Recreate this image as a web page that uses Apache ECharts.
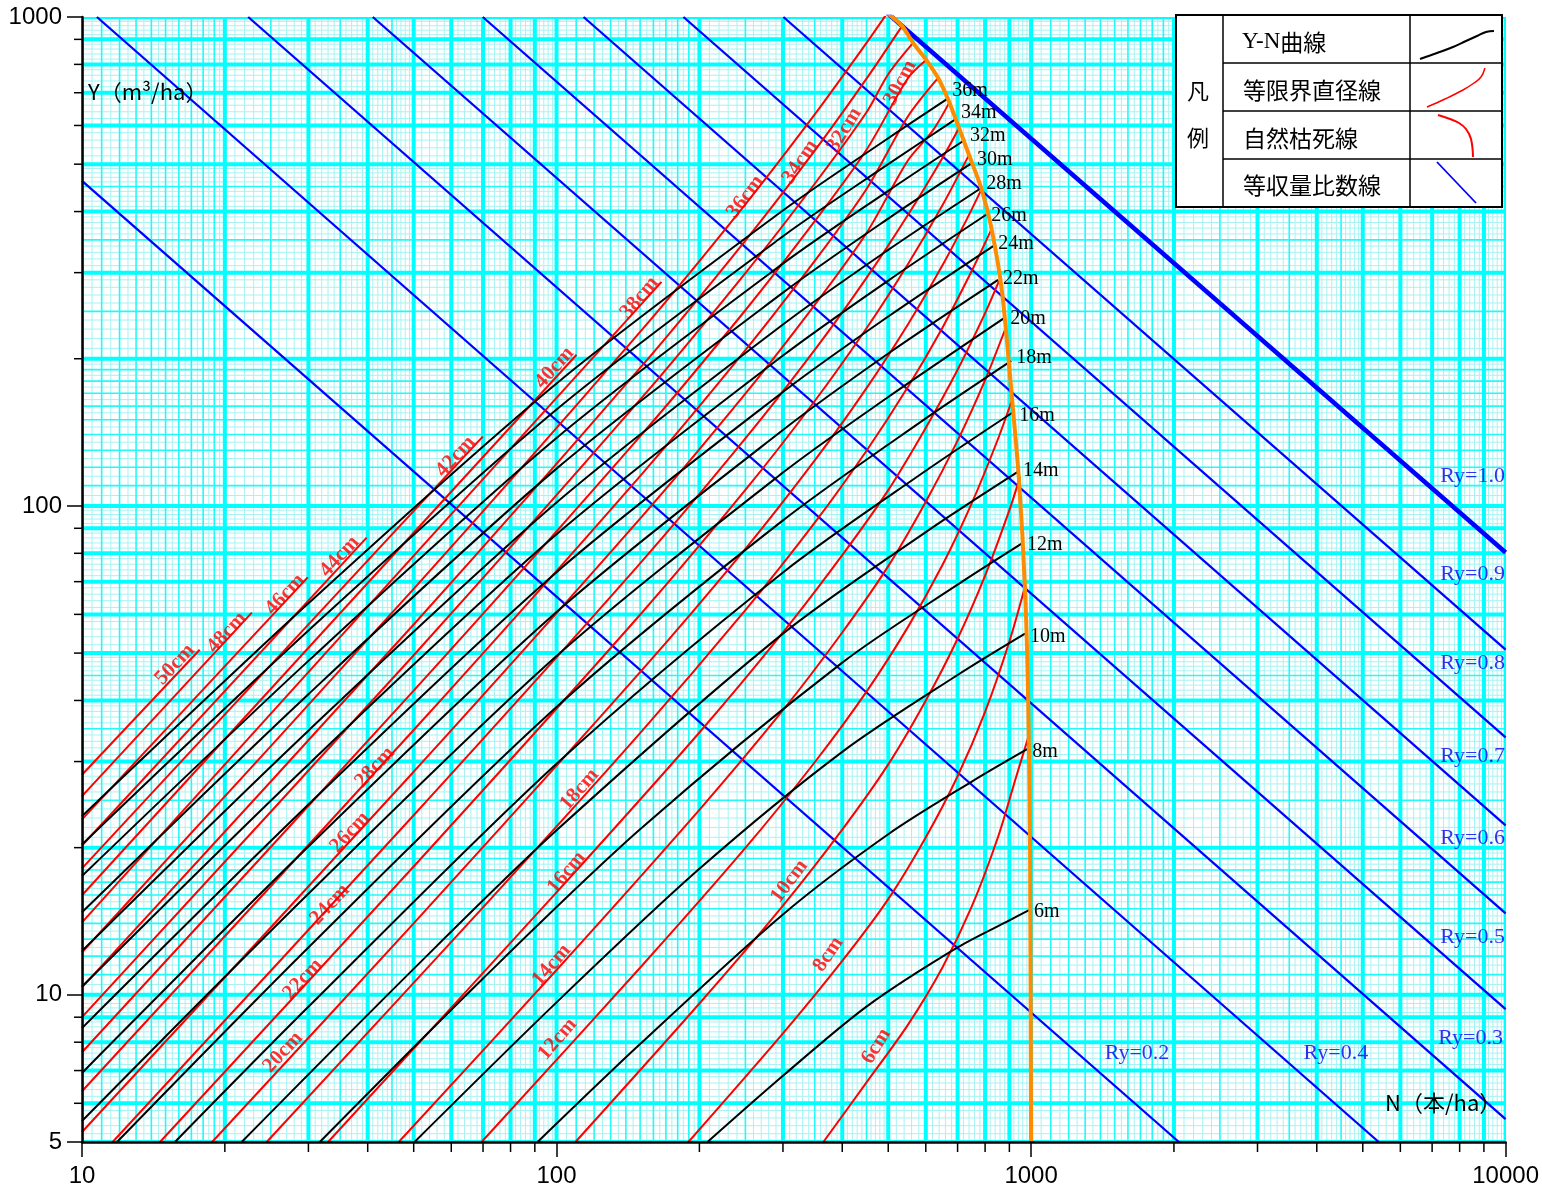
<!DOCTYPE html>
<html><head><meta charset="utf-8">
<script src="https://cdn.jsdelivr.net/npm/echarts@6/dist/echarts.min.js"></script>
<style>html,body{margin:0;padding:0;background:#fff}#c{width:1542px;height:1188px}</style>
</head><body><div id="c"></div>
<script>
// ---- axes ----
const X_MIN = 10, X_MAX = 10000, Y_MIN = 5, Y_MAX = 1000;
const xMinorTicks = [20,30,40,50,60,70,80,90,200,300,400,500,600,700,800,900,2000,3000,4000,5000,6000,7000,8000,9000];
const yMinorTicks = [6,7,8,9,20,30,40,50,60,70,80,90,200,300,400,500,600,700,800,900];

// ---- Y-N curves (height), [N (本/ha), Y (m3/ha)] ----
const yn36 = [[10,23.2],[30,63.2],[100,178],[300,402],[500,565],[666,680]];
const yn34 = [[10,20.3],[30,55.6],[100,157.5],[300,356],[500,500],[695,619]];
const yn32 = [[10,17.5],[30,48.2],[100,137.7],[300,313],[500,441],[726,561]];
const yn30 = [[10,14.75],[30,41.2],[100,119.2],[300,273],[500,387],[751,503]];
const yn28 = [[10,12.3],[30,34.7],[100,101.6],[300,235],[500,334],[785,447]];
const yn26 = [[10,10.4],[30,29.6],[100,87.5],[300,203],[500,289],[804,394]];
const yn24 = [[10,8.55],[30,24.5],[100,73.2],[300,171],[500,244],[832,340]];
const yn22 = [[10,6.92],[30,20.1],[100,60.7],[300,143],[500,205],[852,290]];
const yn20 = [[10,5.52],[30,16.1],[100,49.3],[300,117],[500,167],[882,243]];
const yn18 = [[11.85,5],[30,12.5],[100,38.8],[300,93.4],[600,151],[908,198]];
const yn16 = [[15.7,5],[30,9.45],[100,29.7],[300,73.1],[600,118],[921,156]];
const yn14 = [[21.7,5],[50,11.3],[100,21.7],[300,54.8],[600,88.4],[939,117.5]];
const yn12 = [[31.7,5],[70,10.8],[150,21.8],[400,47.8],[700,69],[957,83.8]];
const yn10 = [[50.2,5],[100,9.65],[200,18.1],[400,31.4],[700,45.1],[971,54.8]];
const yn8  = [[91.2,5],[150,7.93],[300,14.6],[500,21.3],[750,27.3],[981,31.8]];
const yn6  = [[208,5],[300,6.83],[450,9.46],[700,12.5],[900,14.2],[990,14.9]];
const heightNames = ['36m','34m','32m','30m','28m','26m','24m','22m','20m','18m','16m','14m','12m','10m','8m','6m'];
const heightCurves = [yn36,yn34,yn32,yn30,yn28,yn26,yn24,yn22,yn20,yn18,yn16,yn14,yn12,yn10,yn8,yn6];
// vertical nudge of each height label (px, style only)
const heightLabelDy = [-8,-6,-4,-3,-4,1,-2,-1,1,-3,4,-1,1,3,3,2];

// ---- equal limiting diameter curves ----
const d50 = [[10,28.2],[17.7,50.8]];
const d48 = [[10,25.5],[22.8,60.5]];
const d46 = [[10,22.85],[29.9,71.4]];
const d44 = [[10,20.2],[39.8,86.1]];
const d42 = [[10,18.14],[69.9,138.6]];
const d40 = [[10,15.98],[110.2,203.8]];
const d38 = [[10,14.07],[166.4,287.3]];
const d36 = [[10,12.22],[50,67.65],[150,227],[250,414],[350,632],[450,885],[497.6,1019]];
const d34 = [[10,10.36],[50,57.2],[150,191.5],[250,349],[350,533],[450,748],[535,959]];
const d32 = [[10,9.0],[50,49.5],[150,164.9],[250,299.4],[350,456],[450,638.5],[500,763.6],[564,885]];
const d30 = [[10,7.63],[50,41.9],[150,138.8],[250,251.3],[350,382.2],[450,535.1],[550,749.6],[601,817]];
const d28 = [[10,6.35],[50,34.8],[150,115.1],[250,208.2],[350,317],[450,444.9],[550,625.7],[637,750.4]];
const d26 = [[10,5.24],[50,28.6],[150,94.2],[250,169.7],[350,257.8],[450,361.6],[550,508.7],[620,584.7],[672,667.3]];
const d24 = [[11.6,5],[50,23.3],[150,76.3],[250,137.4],[350,208.5],[450,292.7],[550,393.5],[650,514.2],[705,593.1]];
const d22 = [[14.6,5],[50,18.3],[150,59.9],[250,107.8],[350,163.9],[450,230.9],[550,312.2],[650,411.5],[740,522.4]];
const d20 = [[18.8,5],[50,14.0],[150,45.7],[250,81.7],[350,123.9],[450,174.2],[550,235.1],[650,310.2],[730,383.8],[785,443]];
const d18 = [[24.5,5],[70,15.1],[150,34.3],[250,61.2],[350,92.4],[450,129.7],[550,175],[650,231.2],[750,302.6],[824,366.9]];
const d16 = [[33,5],[100,16.2],[200,34.4],[300,55.1],[400,79.3],[500,107.7],[600,144.5],[700,189.9],[800,248],[856,288.7]];
const d14 = [[46.5,5],[100,11.24],[200,23.9],[300,38.2],[400,55.1],[500,75.3],[600,102],[700,136],[800,180.9],[886,232.5]];
const d12 = [[69.5,5],[150,11.36],[250,19.97],[350,29.9],[450,41.7],[550,56.5],[650,75.6],[750,101.3],[850,136.4],[912,164.9]];
const d10 = [[109.6,5],[200,9.6],[300,15.22],[400,21.77],[500,29.6],[600,40],[700,53.5],[800,72],[900,98],[948,114.8]];
const d8  = [[189.6,5],[300,8.34],[400,11.73],[500,15.69],[600,21],[700,28],[800,37.9],[900,52.8],[971,68.4]];
const d6  = [[365,5],[450,6.62],[550,8.68],[650,11.36],[750,15.16],[850,20.9],[930,27.9],[986,33.6]];
const diaCurves = [d50,d48,d46,d44,d42,d40,d38,d36,d34,d32,d30,d28,d26,d24,d22,d20,d18,d16,d14,d12,d10,d8,d6];
// label text, N, Y, rotation
const diaLabels = [
  ['50cm',15.7,47.4,47],['48cm',20.2,55.1,47],['46cm',26.8,65.9,47],['44cm',34.9,78.8,47],
  ['42cm',61.3,126.2,47],['40cm',99,191.7,48],['38cm',149.5,266.6,50],['36cm',250,428.7,53],
  ['34cm',326,505.4,56],['32cm',404,587.6,58],['30cm',530,733,62],['28cm',41.4,29.2,47],
  ['26cm',36.7,21.5,47],['24cm',33.3,15.3,47],['22cm',29.2,10.76,47],['20cm',26.5,7.63,47],
  ['18cm',111.8,26.3,49],['16cm',105,17.8,50],['14cm',97.6,11.5,49],['12cm',100.5,8.12,49],
  ['10cm',309.5,17.07,53],['8cm',373.8,12.1,56],['6cm',471.8,7.85,58]
];

// ---- natural thinning line ----
const thinning = [[497.6,1019],[535,958],[564,885],[601,817],[637,750],[669,677],[705,593],[740,522],
  [785,447],[824,372],[869,273],[912,165],[943,113],[971,67.5],[986,40.2],[995,19.8],[1000,5]];

// ---- equal yield-ratio lines ----
const ryA = [[10,462.2],[2049,5]];
const ryB = [[10.75,1000],[5403,5]];
const ryC = [[22.4,1000],[10000,5.57]];
const ryD = [[41.0,1000],[10000,9.35]];
const ryE = [[69.9,1000],[10000,14.68]];
const ryF = [[114,1000],[10000,22.2]];
const ryG = [[185.1,1000],[10000,33.6]];
const ryH = [[300.6,1000],[10000,50.8]];
const ry10 = [[497.6,1019],[10000,80.3]];
const ryThin = [ryA,ryB,ryC,ryD,ryE,ryF,ryG,ryH];
const ryLabels = [['Ry=1.0',8521,114.8],['Ry=0.9',8521,72.4],['Ry=0.8',8521,47.6],['Ry=0.7',8521,30.7],
  ['Ry=0.6',8521,20.9],['Ry=0.5',8521,13.1],['Ry=0.3',8440,8.15],['Ry=0.4',4386,7.6],['Ry=0.2',1672,7.6]];

// ---- graph paper grid ----
function buildGrid(){
  const items = [];
  function addRange(decades, lo, hi, dir){
    decades.forEach(function(b){
      for (let m = 1; m <= 9; m++){
        const step = m === 1 ? 0.05 : (m <= 4 ? 0.1 : 0.2);
        const med = m === 1 ? 0.1 : (m <= 4 ? 0.5 : 0);
        const n = Math.round(1/step);
        for (let k = 0; k < n; k++){
          const f = k*step;
          const v = +((m+f)*b).toPrecision(10);
          if (v < lo - 1e-9 || v > hi + 1e-9) continue;
          let lvl = 2;
          if (k === 0) lvl = 0;
          else if (med && Math.abs(f/med - Math.round(f/med)) < 1e-6) lvl = 1;
          items.push(dir === 0 ? [v, Y_MIN, 0, lvl] : [X_MIN, v, 1, lvl]);
        }
      }
    });
  }
  addRange([10,100,1000], X_MIN, X_MAX, 0);
  items.push([X_MAX, Y_MIN, 0, 0]);
  addRange([1,10,100], Y_MIN, Y_MAX, 1);
  items.push([X_MIN, Y_MAX, 1, 0]);
  items.sort(function(a,b){return b[3]-a[3];});
  return items;
}
const gridItems = buildGrid();
const GRID_STROKE = ['#00FFFF','#22FAFA','#A6F3F3'];
const GRID_WIDTH = [4, 1.6, 1];

const tickItems = xMinorTicks.map(v => [v, Y_MIN, 0, 10]).concat(yMinorTicks.map(v => [X_MIN, v, 1, 8]));

const series = [];
series.push({
  type:'custom', name:'grid', z:1, silent:true, clip:true, data:gridItems, encode:{x:0,y:1},
  renderItem:function(params, api){
    const v0 = api.value(0), v1 = api.value(1), dir = api.value(2), lvl = api.value(3);
    let p1, p2;
    if (dir === 0){ p1 = api.coord([v0, Y_MIN]); p2 = api.coord([v0, Y_MAX]); }
    else { p1 = api.coord([X_MIN, v1]); p2 = api.coord([X_MAX, v1]); }
    return {type:'line', shape:{x1:p1[0],y1:p1[1],x2:p2[0],y2:p2[1]}, style:{stroke:GRID_STROKE[lvl], lineWidth:GRID_WIDTH[lvl]}, silent:true};
  }
});
series.push({
  type:'custom', name:'ticks', z:12, silent:true, clip:false, data:tickItems, encode:{x:0,y:1},
  renderItem:function(params, api){
    const p = api.coord([api.value(0), api.value(1)]);
    const dir = api.value(2), len = api.value(3);
    const shape = dir === 0 ? {x1:p[0],y1:p[1],x2:p[0],y2:p[1]+len} : {x1:p[0]-len,y1:p[1],x2:p[0],y2:p[1]};
    return {type:'line', shape:shape, style:{stroke:'#000', lineWidth:1.5}, silent:true};
  }
});
ryThin.forEach(function(d){
  series.push({type:'line', z:2, data:d, showSymbol:false, silent:true, clip:true,
    lineStyle:{color:'#0000FF', width:2.3}});
});
series.push({type:'line', z:2, data:ry10, showSymbol:false, silent:true, clip:true,
  lineStyle:{color:'#0000FF', width:4.5}});
diaCurves.forEach(function(d){
  series.push({type:'line', z:3, data:d, showSymbol:false, silent:true, clip:true, smooth:0.3,
    lineStyle:{color:'#FF0000', width:2}});
});
heightCurves.forEach(function(d, i){
  series.push({type:'line', z:4, name:heightNames[i], data:d, showSymbol:false, silent:true, clip:true, smooth:0.3,
    lineStyle:{color:'#000000', width:2},
    endLabel:{show:true, formatter:heightNames[i], color:'#000', fontFamily:'Liberation Serif', fontSize:20,
      distance:5, offset:[0, heightLabelDy[i]]}});
});
series.push({type:'line', z:5, data:thinning, showSymbol:false, silent:true, clip:true, smooth:0.25,
  lineStyle:{color:'#FF8C00', width:4}});
series.push({type:'scatter', z:6, symbolSize:0, silent:true,
  data: diaLabels.map(function(l){ return {value:[l[1], l[2]], label:{formatter:l[0], rotate:l[3]}}; }),
  label:{show:true, position:'inside', color:'#FF0000', fontFamily:'Liberation Serif', fontWeight:'bold', fontSize:21}
});
series.push({type:'scatter', z:6, symbolSize:0, silent:true,
  data: ryLabels.map(function(l){ return {value:[l[1], l[2]], label:{formatter:l[0]}}; }),
  label:{show:true, position:'inside', color:'#0000EE', fontFamily:'Liberation Serif', fontSize:22}
});

const cjk = '"Noto Sans CJK JP"';
const graphic = [
  {type:'text', x:88, y:92, z:50, style:{text:'Y（m³/ha）', font:'22px ' + cjk, fill:'#000', align:'left', verticalAlign:'middle'}},
  {type:'text', x:1385, y:1103, z:50, style:{text:'N（本/ha）', font:'22px ' + cjk, fill:'#000', align:'left', verticalAlign:'middle'}},
  {type:'rect', z:100, shape:{x:1176,y:15,width:326,height:192}, style:{fill:'#fff', stroke:'#000', lineWidth:2}},
  {type:'line', z:101, shape:{x1:1223,y1:15,x2:1223,y2:207}, style:{stroke:'#000', lineWidth:1.5}},
  {type:'line', z:101, shape:{x1:1410,y1:15,x2:1410,y2:207}, style:{stroke:'#000', lineWidth:1.5}},
  {type:'line', z:101, shape:{x1:1223,y1:63,x2:1502,y2:63}, style:{stroke:'#000', lineWidth:1.5}},
  {type:'line', z:101, shape:{x1:1223,y1:111,x2:1502,y2:111}, style:{stroke:'#000', lineWidth:1.5}},
  {type:'line', z:101, shape:{x1:1223,y1:159,x2:1502,y2:159}, style:{stroke:'#000', lineWidth:1.5}},
  {type:'text', z:102, x:1198, y:91, style:{text:'凡', font:'22px ' + cjk, fill:'#000', align:'center', verticalAlign:'middle'}},
  {type:'text', z:102, x:1198, y:138, style:{text:'例', font:'22px ' + cjk, fill:'#000', align:'center', verticalAlign:'middle'}},
  {type:'text', z:102, x:1242, y:42, style:{text:'{a|Y-N}{b|曲線}', fill:'#000', align:'left', verticalAlign:'middle',
     rich:{a:{fontFamily:'Liberation Serif', fontSize:23, fill:'#000'}, b:{fontFamily:'Noto Sans CJK JP', fontSize:23, fill:'#000'}}}},
  {type:'text', z:102, x:1243, y:90, style:{text:'等限界直径線', font:'23px ' + cjk, fill:'#000', align:'left', verticalAlign:'middle'}},
  {type:'text', z:102, x:1243, y:138, style:{text:'自然枯死線', font:'23px ' + cjk, fill:'#000', align:'left', verticalAlign:'middle'}},
  {type:'text', z:102, x:1243, y:185, style:{text:'等収量比数線', font:'23px ' + cjk, fill:'#000', align:'left', verticalAlign:'middle'}},
  {type:'polyline', z:102, shape:{points:[[1420,59],[1437,53],[1453,47],[1466,41],[1477,36],[1486,32],[1494,31]], smooth:0.4}, style:{stroke:'#000', lineWidth:2, fill:null}},
  {type:'polyline', z:102, shape:{points:[[1427,107],[1445,99],[1463,90],[1474,83],[1481,77],[1485,68]], smooth:0.4}, style:{stroke:'#FF0000', lineWidth:1.5, fill:null}},
  {type:'polyline', z:102, shape:{points:[[1438,115],[1450,119],[1459,123],[1466,129],[1471,139],[1473,157]], smooth:0.4}, style:{stroke:'#FF0000', lineWidth:2, fill:null}},
  {type:'line', z:102, shape:{x1:1437,y1:162,x2:1476,y2:203}, style:{stroke:'#0000FF', lineWidth:1.8}}
];

const chart = echarts.init(document.getElementById('c'), null, {renderer:'canvas', width:1542, height:1188});
chart.setOption({
  animation:false,
  backgroundColor:'#ffffff',
  grid:{left:82, top:17, right:35, bottom:45, show:false, containLabel:false},
  xAxis:{type:'log', logBase:10, min:X_MIN, max:X_MAX, z:10,
    axisLine:{show:true, onZero:false, lineStyle:{color:'#000', width:2.5}},
    axisTick:{show:true, length:15, lineStyle:{color:'#000', width:1.5}},
    axisLabel:{show:true, margin:22, fontSize:24, color:'#000', fontFamily:'Liberation Sans',
      formatter:function(v){return String(Math.round(v));}},
    splitLine:{show:false}, minorTick:{show:false}, minorSplitLine:{show:false}},
  yAxis:{type:'log', logBase:10, min:Y_MIN, max:Y_MAX, z:10,
    axisLine:{show:true, onZero:false, lineStyle:{color:'#000', width:2.5}},
    axisTick:{show:true, length:15, lineStyle:{color:'#000', width:1.5}},
    axisLabel:{show:true, margin:20, fontSize:24, color:'#000', fontFamily:'Liberation Sans',
      formatter:function(v){return String(Math.round(v));}},
    splitLine:{show:false}, minorTick:{show:false}, minorSplitLine:{show:false}},
  series:series,
  graphic:graphic
});
</script></body></html>
